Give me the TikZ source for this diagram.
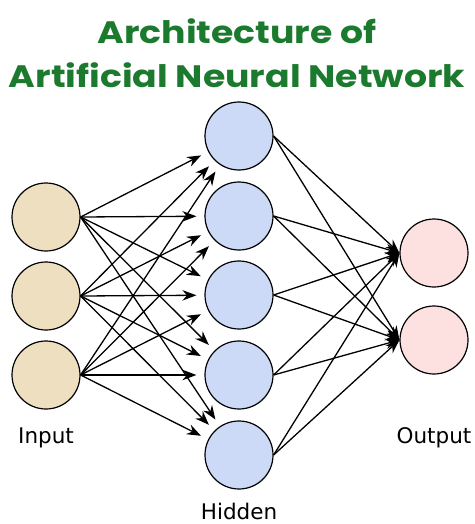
\documentclass[tikz,border=0pt]{standalone}
\usepackage{fontspec}
\setmainfont{DejaVu Sans}
\newfontfamily\titlefont[FakeStretch=1.17]{Poppins}
\usetikzlibrary{arrows.meta}
\definecolor{titlegreen}{HTML}{1C7A2E}
\definecolor{infill}{HTML}{EEDFC0}
\definecolor{hidfill}{HTML}{CCDAF7}
\definecolor{outfill}{HTML}{FDE0E0}
\tikzset{
	neuron/.style={circle,draw,line width=1.2pt,minimum size=68pt,inner sep=0pt},
	conn/.style={line width=1.3pt,-{Stealth[length=14pt,width=10.5pt]}},
	layername/.style={font=\fontsize{21.5}{24}\selectfont}
}
\begin{document}
\begin{tikzpicture}[x=1pt,y=-1pt]
	\useasboundingbox (0,0) rectangle (474,524);
	\node[align=center,text=titlegreen,font={\titlefont\bfseries\fontsize{31}{44}\selectfont}] (title) at (237,53) {Architecture of\\Artificial Neural Network};
	\foreach \y [count=\i] in {217,296,375} \node[neuron,fill=infill] (in\i) at (46,\y) {};
	\foreach \y [count=\i] in {136,216,295,375,455} \node[neuron,fill=hidfill] (hid\i) at (239,\y) {};
	\foreach \y [count=\i] in {253,340} \node[neuron,fill=outfill] (out\i) at (434,\y) {};
	\foreach \i in {1,2,3}
		\foreach \j in {1,...,5} \draw[conn,shorten >=8pt] (in\i.east) -- (hid\j);
	\foreach \j in {1,...,5}
		\foreach \k in {1,2} \draw[conn] (hid\j.east) -- (out\k.west);
	\node[layername] (inname) at (46,438) {Input};
	\node[layername] (hidname) at (239,511) {Hidden};
	\node[layername] (outname) at (434,438) {Output};
\end{tikzpicture}
\end{document}
